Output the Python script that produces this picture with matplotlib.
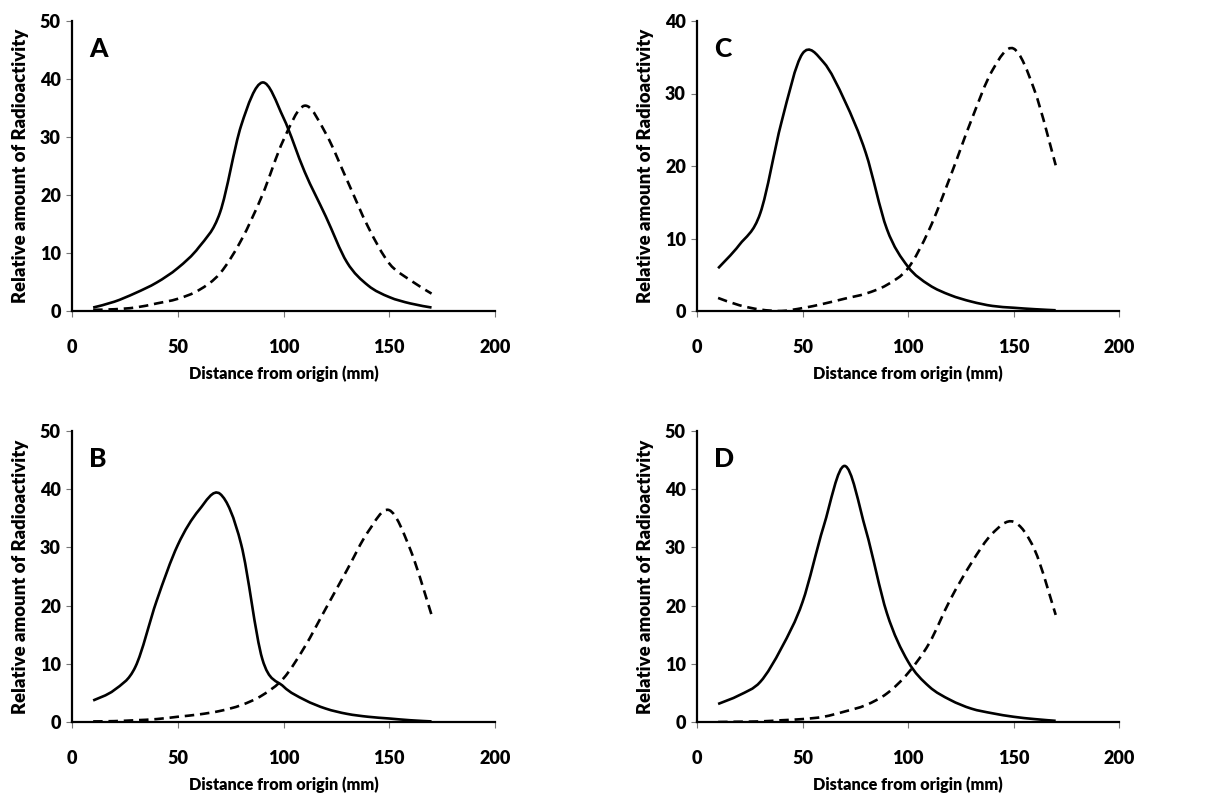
import numpy as np
import matplotlib
matplotlib.use("Agg")
import matplotlib.pyplot as plt
from matplotlib.path import Path
from matplotlib.patches import PathPatch

plt.rcParams['font.family'] = ['Lato', 'DejaVu Sans']
plt.rcParams['font.weight'] = 'bold'

# distance from origin (mm)
dist = [10, 20, 30, 40, 50, 60, 70, 80, 90, 100, 110, 120, 130, 140, 150, 160, 170]

# relative amount of radioactivity
a_solid = [0.6, 1.6, 3.1, 4.9, 7.4, 11.0, 17.0, 32.0, 39.4, 33.3, 24.0, 16.3, 8.4, 4.4, 2.4, 1.3, 0.6]
a_dashed = [0.2, 0.3, 0.6, 1.3, 2.1, 3.6, 6.5, 12.2, 20.0, 29.5, 35.4, 30.6, 22.6, 14.5, 8.2, 5.3, 3.0]

b_solid = [3.7, 5.5, 9.5, 20.8, 30.4, 36.4, 39.2, 30.5, 10.8, 6.1, 3.8, 2.3, 1.4, 0.9, 0.6, 0.3, 0.1]
b_dashed = [0.1, 0.15, 0.3, 0.5, 0.9, 1.3, 1.9, 2.9, 4.6, 7.5, 12.9, 19.5, 26.1, 32.7, 36.4, 29.6, 18.4]

c_solid = [5.9, 9.1, 13.5, 26.0, 35.5, 34.3, 29.0, 21.8, 11.3, 6.1, 3.6, 2.2, 1.3, 0.7, 0.45, 0.25, 0.1]
c_dashed = [1.8, 0.8, 0.2, 0.0, 0.4, 1.0, 1.7, 2.4, 3.6, 5.9, 11.2, 18.5, 26.3, 33.2, 36.2, 30.4, 20.1]

d_solid = [3.1, 4.6, 6.9, 12.7, 20.6, 33.6, 44.0, 33.0, 18.7, 10.4, 6.1, 3.8, 2.3, 1.5, 0.9, 0.5, 0.2]
d_dashed = [0.0, 0.05, 0.1, 0.3, 0.5, 0.9, 1.8, 2.9, 4.9, 8.4, 13.5, 21.0, 27.3, 32.4, 34.4, 29.6, 18.4]

panels = [
    ("A", a_solid, a_dashed, 50),
    ("C", c_solid, c_dashed, 40),
    ("B", b_solid, b_dashed, 50),
    ("D", d_solid, d_dashed, 50),
]


# Excel-like smoothed line: bezier segments through the data points
def smooth_path(x, y):
    p = np.column_stack([x, y]).astype(float)
    n = len(p)
    verts = [p[0]]
    codes = [Path.MOVETO]
    for i in range(n - 1):
        p0 = p[i - 1] if i > 0 else p[i]
        p1 = p[i]
        p2 = p[i + 1]
        p3 = p[i + 2] if i + 2 < n else p[i + 1]
        c1 = p1 + (p2 - p0) / 6.0
        c2 = p2 - (p3 - p1) / 6.0
        verts += [c1, c2, p2]
        codes += [Path.CURVE4] * 3
    return Path(verts, codes)


W, H = 1221, 795
fig = plt.figure(figsize=(W / 100, H / 100), dpi=100)

# axes boxes in pixels: left, right, top, bottom
boxes = [(72, 495, 21, 311), (697, 1119, 21, 311),
         (72, 495, 431, 722), (697, 1119, 431, 722)]

for (label, solid, dashed, ymax), (l, r, t, b) in zip(panels, boxes):
    ax = fig.add_axes([l / W, (H - b) / H, (r - l) / W, (b - t) / H])
    ax.add_patch(PathPatch(smooth_path(dist, solid), fill=False,
                           edgecolor="black", lw=1.9))
    ax.add_patch(PathPatch(smooth_path(dist, dashed), fill=False,
                           edgecolor="black", lw=1.9, linestyle=(0, (3.6, 2.2))))
    ax.set_xlim(0, 200)
    ax.set_ylim(0, ymax)
    ax.set_xticks(np.arange(0, 201, 50))
    ax.set_yticks(np.arange(0, ymax + 1, 10))
    for s in ["top", "right"]:
        ax.spines[s].set_visible(False)
    for s in ["left", "bottom"]:
        ax.spines[s].set_linewidth(1.6)
    ax.tick_params(axis="x", direction="out", length=4, width=0.8,
                   color="#777777", pad=16, labelsize=13)
    ax.tick_params(axis="y", direction="out", length=4, width=0.8,
                   color="#777777", pad=4, labelsize=13)
    for lbl in ax.get_xticklabels() + ax.get_yticklabels():
        lbl.set_fontweight("heavy")
    ax.set_xlabel("Distance from origin (mm)", fontsize=11.7,
                  fontweight="heavy", labelpad=7)
    ax.set_ylabel("Relative amount of Radioactivity", fontsize=13.3,
                  fontweight="heavy", labelpad=8)
    ax.text(0.04, 0.905, label, transform=ax.transAxes, fontsize=19,
            fontweight="black", va="center", ha="left")

fig.savefig("out.png", dpi=100)
